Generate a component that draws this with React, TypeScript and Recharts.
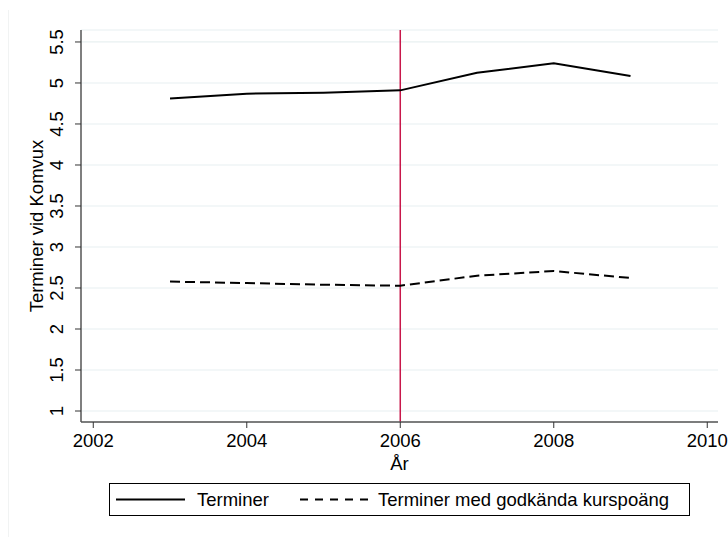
import React from 'react';
import { LineChart, Line, XAxis, YAxis, CartesianGrid, ReferenceLine, Label } from 'recharts';

const years = [2003, 2004, 2005, 2006, 2007, 2008, 2009];
const terminer = [4.81, 4.87, 4.88, 4.91, 5.125, 5.24, 5.085];
const godkanda = [2.578, 2.56, 2.54, 2.528, 2.65, 2.707, 2.622];
const seriesNames = ['Terminer', 'Terminer med godkända kurspoäng'];
const xTicks = [2002, 2004, 2006, 2008, 2010];
const yTicks = [1, 1.5, 2, 2.5, 3, 3.5, 4, 4.5, 5, 5.5];
const xTitle = 'År';
const yTitle = 'Terminer vid Komvux';
const eventYear = 2006;

const data = years.map((y, i) => ({ year: y, a: terminer[i], b: godkanda[i] }));

const FONT = '"Liberation Sans", Arial, sans-serif';
const FS = 18.5;

const YTick = (props: any) => {
  const { x, y, payload } = props;
  const bx = x - 10;
  return (
    <text
      x={bx}
      y={y}
      transform={`rotate(-90, ${bx}, ${y})`}
      textAnchor="middle"
      fontFamily={FONT}
      fontSize={FS}
      fill="#000"
    >
      {String(payload.value)}
    </text>
  );
};

const XTick = (props: any) => {
  const { x, y, payload } = props;
  return (
    <text x={x} y={y + 17} textAnchor="middle" fontFamily={FONT} fontSize={FS} fill="#000">
      {String(payload.value)}
    </text>
  );
};

export default function App() {
  return (
    <div style={{ position: 'absolute', left: 0, top: 0, width: 728, height: 537, background: '#fff' }}>
      <div style={{ position: 'absolute', left: 8, top: 10, width: 0, height: 527, borderLeft: '1px solid #f1f3f3' }} />
      <LineChart
        width={728}
        height={537}
        data={data}
        margin={{ top: 30, right: 10, left: 0, bottom: 75 }}
      >
        <CartesianGrid horizontal={true} vertical={false} stroke="#e8f0f1" strokeWidth={1.2} />
        <XAxis
          dataKey="year"
          type="number"
          domain={[2001.84, 2010.14]}
          ticks={xTicks}
          allowDataOverflow
          height={40}
          tick={<XTick />}
          tickSize={6}
          axisLine={{ stroke: '#555', strokeWidth: 1.5 }}
          tickLine={{ stroke: '#333', strokeWidth: 1 }}
        >
          <Label
            content={(p: any) => {
              const vb = p.viewBox;
              return (
                <text x={vb.x + vb.width / 2} y={vb.y + 48} textAnchor="middle" fontFamily={FONT} fontSize={FS} fill="#000">
                  {xTitle}
                </text>
              );
            }}
          />
        </XAxis>
        <YAxis
          type="number"
          domain={[0.866, 5.646]}
          ticks={yTicks}
          allowDataOverflow
          width={81}
          tick={<YTick />}
          tickSize={6}
          axisLine={{ stroke: '#555', strokeWidth: 1.5 }}
          tickLine={{ stroke: '#333', strokeWidth: 1 }}
        >
          <Label
            content={(p: any) => {
              const vb = p.viewBox;
              const cx = vb.x + 43;
              const cy = vb.y + vb.height / 2;
              return (
                <text x={cx} y={cy} transform={`rotate(-90, ${cx}, ${cy})`} textAnchor="middle" fontFamily={FONT} fontSize={FS} fill="#000">
                  {yTitle}
                </text>
              );
            }}
          />
        </YAxis>
        <ReferenceLine x={eventYear} stroke="#c8174a" strokeWidth={1.5} />
        <Line dataKey="a" name={seriesNames[0]} stroke="#000" strokeWidth={2} dot={false} isAnimationActive={false} />
        <Line dataKey="b" name={seriesNames[1]} stroke="#000" strokeWidth={2} strokeDasharray="10 5" dot={false} isAnimationActive={false} />
      </LineChart>
      <div
        style={{
          position: 'absolute',
          left: 109,
          top: 483,
          width: 581,
          height: 33,
          border: '1px solid #000',
          boxSizing: 'border-box',
          fontFamily: FONT,
          fontSize: FS,
        }}
      >
        <svg width={581} height={33} style={{ position: 'absolute', left: -1, top: -1 }}>
          <line x1={7} y1={16.5} x2={76} y2={16.5} stroke="#000" strokeWidth={2} />
          <text x={88} y={23} fontFamily={FONT} fontSize={FS} fill="#000">{seriesNames[0]}</text>
          <line x1={191} y1={16.5} x2={260} y2={16.5} stroke="#000" strokeWidth={2} strokeDasharray="8 7" />
          <text x={269} y={23} fontFamily={FONT} fontSize={FS} fill="#000">{seriesNames[1]}</text>
        </svg>
      </div>
    </div>
  );
}
